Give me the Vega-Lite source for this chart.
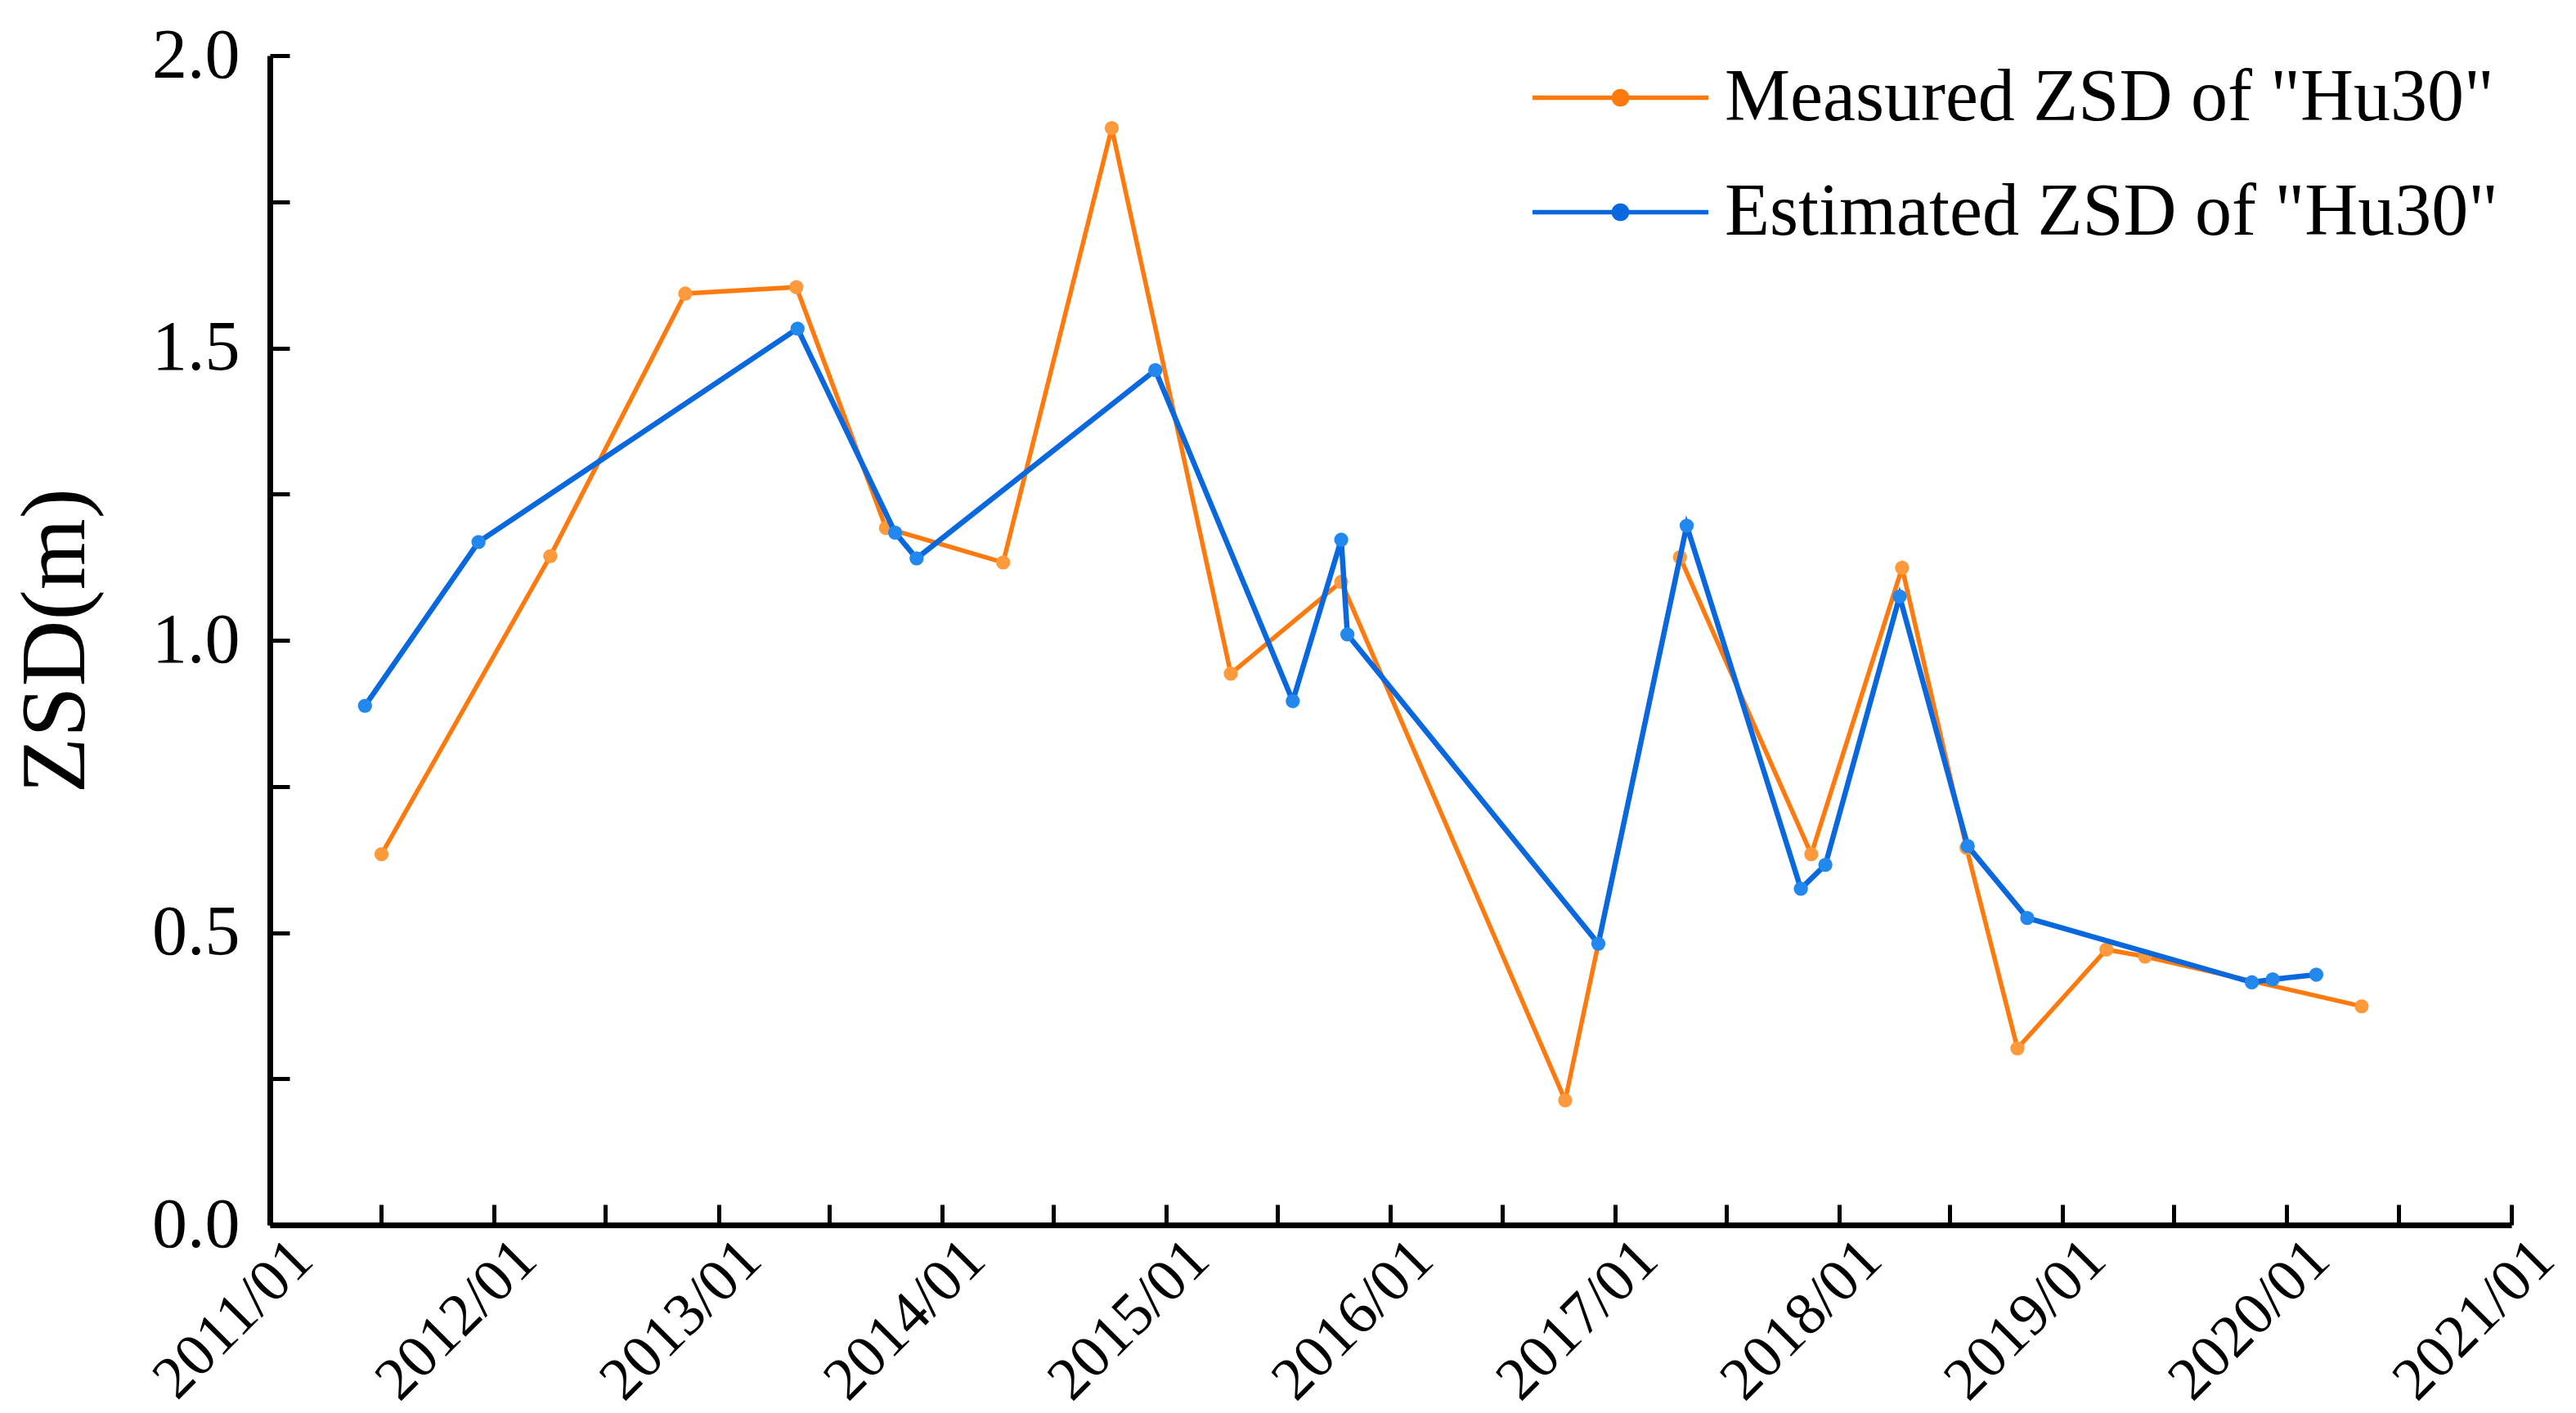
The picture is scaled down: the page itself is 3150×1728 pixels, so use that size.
{
  "$schema": "https://vega.github.io/schema/vega-lite/v6.json",
  "width": 2741,
  "height": 1430,
  "autosize": "none",
  "padding": {"left": 330, "top": 68, "right": 79, "bottom": 230},
  "background": "white",
  "config": {"view": {"stroke": null}},
  "data": {
    "values": [
      {"date": "2011-07-02", "value": 0.634, "series": "Measured"},
      {"date": "2012-04-02", "value": 1.144, "series": "Measured"},
      {"date": "2012-11-08", "value": 1.593, "series": "Measured"},
      {"date": "2013-05-08", "value": 1.604, "series": "Measured"},
      {"date": "2013-10-01", "value": 1.192, "series": "Measured"},
      {"date": "2014-04-10", "value": 1.133, "series": "Measured"},
      {"date": "2014-10-04", "value": 1.876, "series": "Measured"},
      {"date": "2015-04-16", "value": 0.943, "series": "Measured"},
      {"date": "2015-10-13", "value": 1.1, "series": "Measured"},
      {"date": "2016-10-12", "value": 0.213, "series": "Measured"},
      {"date": "2017-04-17", "value": 1.142, "series": "Measured"},
      {"date": "2017-11-17", "value": 0.634, "series": "Measured"},
      {"date": "2018-04-14", "value": 1.124, "series": "Measured"},
      {"date": "2018-07-28", "value": 0.645, "series": "Measured"},
      {"date": "2018-10-19", "value": 0.302, "series": "Measured"},
      {"date": "2019-03-13", "value": 0.471, "series": "Measured"},
      {"date": "2019-05-15", "value": 0.459, "series": "Measured"},
      {"date": "2020-05-02", "value": 0.374, "series": "Measured"},
      {"date": "2011-06-05", "value": 0.888, "series": "Estimated"},
      {"date": "2011-12-07", "value": 1.168, "series": "Estimated"},
      {"date": "2013-05-10", "value": 1.533, "series": "Estimated"},
      {"date": "2013-10-16", "value": 1.184, "series": "Estimated"},
      {"date": "2013-11-20", "value": 1.14, "series": "Estimated"},
      {"date": "2014-12-14", "value": 1.462, "series": "Estimated"},
      {"date": "2015-07-26", "value": 0.896, "series": "Estimated"},
      {"date": "2015-10-13", "value": 1.172, "series": "Estimated"},
      {"date": "2015-10-23", "value": 1.01, "series": "Estimated"},
      {"date": "2016-12-05", "value": 0.481, "series": "Estimated"},
      {"date": "2017-04-28", "value": 1.196, "series": "Estimated"},
      {"date": "2017-10-31", "value": 0.575, "series": "Estimated"},
      {"date": "2017-12-10", "value": 0.616, "series": "Estimated"},
      {"date": "2018-04-10", "value": 1.075, "series": "Estimated"},
      {"date": "2018-07-30", "value": 0.648, "series": "Estimated"},
      {"date": "2018-11-04", "value": 0.525, "series": "Estimated"},
      {"date": "2019-11-05", "value": 0.415, "series": "Estimated"},
      {"date": "2019-12-09", "value": 0.42, "series": "Estimated"},
      {"date": "2020-02-18", "value": 0.428, "series": "Estimated"}
    ]
  },
  "encoding": {
    "x": {
      "field": "date",
      "type": "temporal",
      "scale": {"domain": [{"year": 2011, "month": 1, "date": 1}, {"year": 2021, "month": 1, "date": 1}]},
      "axis": {
        "title": null,
        "grid": false,
        "values": [
          {"year": 2011, "month": 1, "date": 1}, {"year": 2011, "month": 7, "date": 1},
          {"year": 2012, "month": 1, "date": 1}, {"year": 2012, "month": 7, "date": 1},
          {"year": 2013, "month": 1, "date": 1}, {"year": 2013, "month": 7, "date": 1},
          {"year": 2014, "month": 1, "date": 1}, {"year": 2014, "month": 7, "date": 1},
          {"year": 2015, "month": 1, "date": 1}, {"year": 2015, "month": 7, "date": 1},
          {"year": 2016, "month": 1, "date": 1}, {"year": 2016, "month": 7, "date": 1},
          {"year": 2017, "month": 1, "date": 1}, {"year": 2017, "month": 7, "date": 1},
          {"year": 2018, "month": 1, "date": 1}, {"year": 2018, "month": 7, "date": 1},
          {"year": 2019, "month": 1, "date": 1}, {"year": 2019, "month": 7, "date": 1},
          {"year": 2020, "month": 1, "date": 1}, {"year": 2020, "month": 7, "date": 1},
          {"year": 2021, "month": 1, "date": 1}
        ],
        "labelExpr": "month(datum.value) == 0 ? timeFormat(datum.value, '%Y/%m') : ''",
        "labelAngle": -45,
        "labelAlign": "right",
        "labelBaseline": "middle",
        "labelFont": "Liberation Serif",
        "labelFontSize": 74,
        "labelColor": "black",
        "labelPadding": 55,
        "labelOffset": 40,
        "labelLimit": 2000,
        "labelOverlap": false,
        "labelFlush": false,
        "labelBound": false,
        "tickSize": -25,
        "tickWidth": 5,
        "tickColor": "black",
        "domainWidth": 7,
        "domainColor": "black",
        "encode": {
          "ticks": {
            "update": {
              "y2": [{"test": "month(datum.value) == 0", "value": -25}, {"value": -12}]
            }
          }
        }
      }
    },
    "y": {
      "field": "value",
      "type": "quantitative",
      "scale": {"domain": [0, 2]},
      "axis": {
        "title": "ZSD(m)",
        "titleFont": "Liberation Serif",
        "titleFontSize": 112,
        "titleFontWeight": "normal",
        "titleColor": "black",
        "titleAngle": -90,
        "titleAlign": "center",
        "titleBaseline": "middle",
        "titleX": -262,
        "titleY": 715,
        "grid": false,
        "values": [0, 0.25, 0.5, 0.75, 1, 1.25, 1.5, 1.75, 2],
        "labelExpr": "datum.value % 0.5 == 0 ? format(datum.value, '.1f') : ''",
        "labelFont": "Liberation Serif",
        "labelFontSize": 86,
        "labelColor": "black",
        "labelPadding": 61,
        "labelOverlap": false,
        "labelFlush": false,
        "tickSize": -24,
        "tickWidth": 5,
        "tickColor": "black",
        "domainWidth": 7,
        "domainColor": "black",
        "encode": {
          "ticks": {
            "update": {
              "x2": [{"test": "datum.value % 0.5 == 0", "value": 24}, {"value": 10}]
            }
          }
        }
      }
    }
  },
  "layer": [
    {
      "transform": [{"filter": "datum.series == 'Measured'"}],
      "mark": {"type": "line", "strokeWidth": 5.5},
      "encoding": {
        "color": {
          "field": "series",
          "type": "nominal",
          "scale": {"domain": ["Measured", "Estimated"], "range": ["#FF7A0E", "#0A68DE"]},
          "legend": {
            "title": null,
            "orient": "none",
            "legendX": 1595,
            "legendY": -5,
            "padding": 0,
            "rowPadding": 38,
            "symbolType": "M-2,0H2M-0.15,0A0.15,0.15,0,1,0,0.15,0A0.15,0.15,0,1,0,-0.15,0Z",
            "symbolSize": 11556,
            "symbolStrokeWidth": 5.5,
            "labelOffset": 71,
            "labelFont": "Liberation Serif",
            "labelFontSize": 90,
            "labelColor": "black",
            "labelLimit": 3000,
            "labelExpr": "datum.label + ' ZSD of \"Hu30\"'",
            "encode": {
              "symbols": {
                "update": {
                  "fill": {"scale": "color", "field": "value"},
                  "stroke": {"scale": "color", "field": "value"}
                }
              }
            }
          }
        }
      }
    },
    {
      "transform": [{"filter": "datum.series == 'Measured'"}],
      "mark": {"type": "point", "filled": true, "shape": "circle", "size": 300, "color": "#FF9A3C", "opacity": 1}
    },
    {
      "transform": [{"filter": "datum.series == 'Estimated'"}],
      "mark": {"type": "line", "strokeWidth": 6.5},
      "encoding": {
        "color": {"field": "series", "type": "nominal"}
      }
    },
    {
      "transform": [{"filter": "datum.series == 'Estimated'"}],
      "mark": {"type": "point", "filled": true, "shape": "circle", "size": 300, "color": "#2388EE", "opacity": 1}
    }
  ]
}
